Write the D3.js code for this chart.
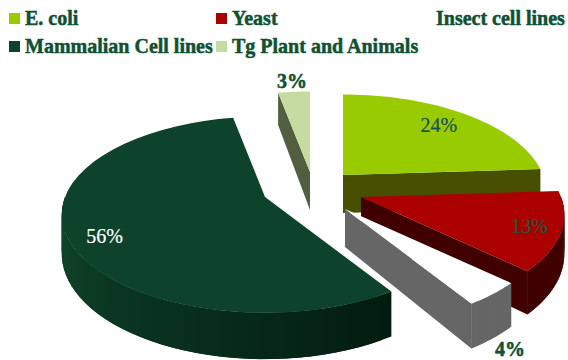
<!DOCTYPE html>
<html>
<head>
<meta charset="utf-8">
<script src="https://cdn.jsdelivr.net/npm/d3@7"></script>
<style>
html, body { margin: 0; padding: 0; background: #fff; }
svg { display: block; }
text { font-family: "Liberation Serif", serif; }
</style>
</head>
<body>
<svg id="chart" width="568" height="360"></svg>
<script>
// Expression systems, share of recombinant production (%)
const categories = ["E. coli", "Yeast", "Insect cell lines", "Mammalian Cell lines", "Tg Plant and Animals"];
const shares = [24, 13, 4, 56, 3];

// Face and wall colours per slice
const faceColors = ["#99cc00", "#aa0000", "#ffffff", "#0c432a", "#c6dba0"];
const wallNear = ["#465000", "#400000", "#666666", "#021a0f", "#535e41"];
const wallFar = ["#465000", "#400000", "#666666", "#114a2e", "#535e41"];

// Exploded apex of each slice
const apexX = [343, 361, 345, 265, 310];
const apexY = [175, 197, 209, 197, 172];

// Label placement: radial fraction plus a nudge
const labelRho = [0.77, 0.85, 1, 0.83, 1];
const labelDx = [0, 0, 17, 3, -2];
const labelDy = [-2, 0, 55, 8, -11];
const labelFill = ["#14505a", "#1b5a3c", "#0f5132", "#ffffff", "#0f5132"];
const labelWeight = ["normal", "normal", "bold", "normal", "bold"];

// Legend rows
const legendX = [9, 216, 420, 9, 216];
const legendY = [13, 13, 13, 41, 41];
const legendSwatch = [true, true, false, true, true];

const svg = d3.select("#chart");

// Tilted-disc projection with mild perspective
const rx = 200, ry = 95, persp = 0.18, depth = 38;
const scaleAt = v => 1 / (1 - persp * v);
const project = (theta, rho, i, lowered) => {
  const u = Math.sin(theta) * rho, v = -Math.cos(theta) * rho, s = scaleAt(v);
  return [apexX[i] + rx * u * s, apexY[i] + ry * v * s + (lowered ? depth * s : 0)];
};

const line = d3.line().curve(d3.curveLinear);
const pie = d3.pie().sort(null).value(d => d)(shares);
const arcSamples = (a, b) => d3.range(0, 41).map(k => a + (b - a) * k / 40);

// Back slices first so that front slices overlap them
const drawOrder = [4, 0, 1, 2, 3];

drawOrder.forEach(i => {
  const slice = pie[i], a0 = slice.startAngle, a1 = slice.endAngle;
  const g = svg.append("g").attr("class", "slice");
  const wallColor = d3.scaleLinear()
    .domain([Math.PI * 0.8, Math.PI * 1.5])
    .range([wallNear[i], wallFar[i]])
    .clamp(true);

  // Outer rim: only the part turned towards the viewer.
  // Each strip runs on under the next one so no seams show between them.
  const rimFrom = Math.max(a0, Math.PI / 2), rimTo = Math.min(a1, Math.PI * 1.5);
  if (rimTo > rimFrom) {
    const samples = arcSamples(rimFrom, rimTo);
    samples.slice(0, -1).forEach((t0, k) => {
      const t1 = samples[Math.min(k + 2, samples.length - 1)];
      g.append("path")
        .attr("d", line([project(t0, 1, i), project(t1, 1, i), project(t1, 1, i, true), project(t0, 1, i, true)]) + "Z")
        .attr("fill", wallColor(t0));
    });
  }

  // Radial walls that face the viewer
  [[a1, Math.sin(a1) > 0], [a0, Math.sin(a0) < 0]].forEach(([t, visible]) => {
    if (!visible) return;
    g.append("path")
      .attr("d", line([project(t, 0, i), project(t, 1, i), project(t, 1, i, true), project(t, 0, i, true)]) + "Z")
      .attr("fill", wallNear[i]);
  });

  // Top face
  const outline = [project(0, 0, i)].concat(arcSamples(a0, a1).map(t => project(t, 1, i)));
  g.append("path").attr("d", line(outline) + "Z").attr("fill", faceColors[i]);
});

// Percentage labels
pie.forEach((slice, i) => {
  const mid = (slice.startAngle + slice.endAngle) / 2;
  const [x, y] = project(mid, labelRho[i], i);
  svg.append("text")
    .attr("x", x + labelDx[i]).attr("y", y + labelDy[i])
    .attr("dy", "0.35em").attr("text-anchor", "middle")
    .attr("font-size", 20).attr("font-weight", labelWeight[i])
    .attr("fill", labelFill[i])
    .attr("stroke", labelFill[i])
    .attr("stroke-width", labelWeight[i] === "bold" ? 0.5 : 0.2)
    .text(shares[i] + "%");
});

// Legend
categories.forEach((name, i) => {
  if (legendSwatch[i]) {
    svg.append("rect")
      .attr("x", legendX[i]).attr("y", legendY[i])
      .attr("width", 11).attr("height", 11)
      .attr("fill", faceColors[i]);
  }
  svg.append("text")
    .attr("x", legendX[i] + 16).attr("y", legendY[i] + 11.5)
    .attr("font-size", 20).attr("font-weight", "bold")
    .attr("fill", "#0f5132")
    .attr("stroke", "#0f5132").attr("stroke-width", 0.5)
    .text(name);
});
</script>
</body>
</html>
